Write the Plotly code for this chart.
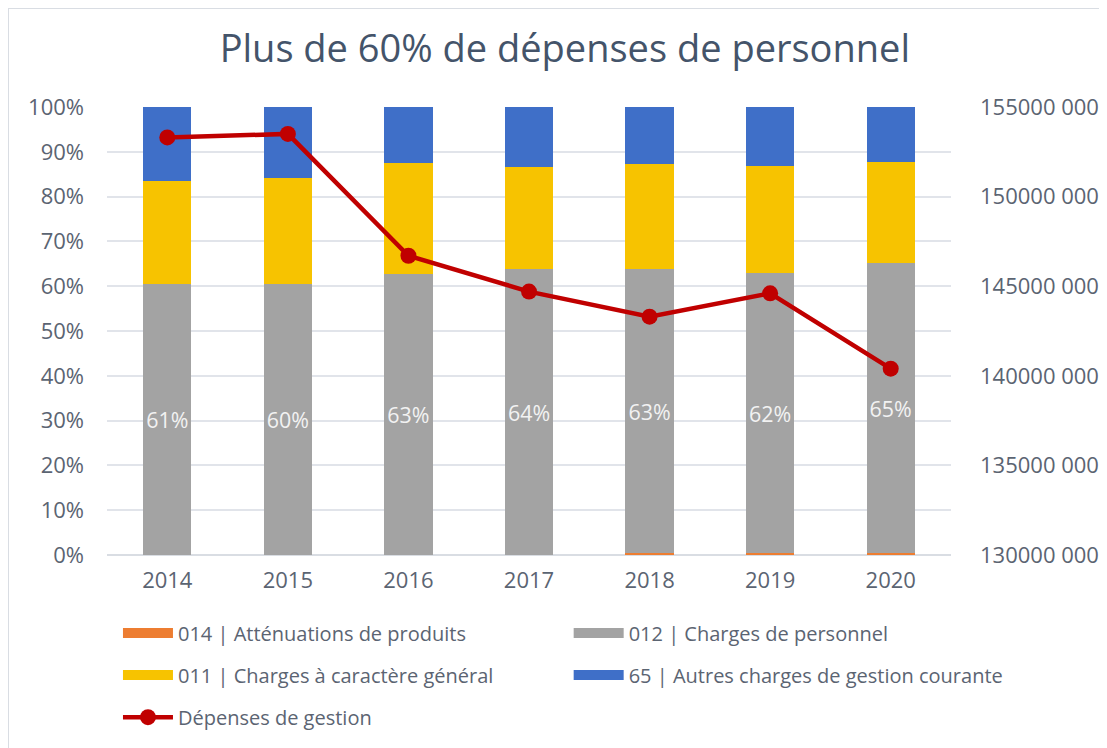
import plotly.graph_objects as go

years = ["2014", "2015", "2016", "2017", "2018", "2019", "2020"]
attenuations_014 = [0, 0, 0, 0, 0.5, 0.5, 0.5]
personnel_012 = [60.6, 60.4, 62.7, 63.8, 63.3, 62.4, 64.6]
general_011 = [22.9, 23.8, 24.8, 22.8, 23.4, 24.0, 22.7]
autres_65 = [16.5, 15.8, 12.5, 13.4, 12.8, 13.1, 12.2]
depenses_gestion = [153300000, 153500000, 146700000, 144700000, 143300000, 144600000, 140400000]

left_tickvals = [0, 10, 20, 30, 40, 50, 60, 70, 80, 90, 100]
left_ticktext = ["0%", "10%", "20%", "30%", "40%", "50%", "60%", "70%", "80%", "90%", "100%"]
right_tickvals = [130000000, 135000000, 140000000, 145000000, 150000000, 155000000]
right_ticktext = ["130000 000", "135000 000", "140000 000", "145000 000", "150000 000", "155000 000"]

FONT = "Open Sans"
TEXT = "#5b6472"

series = [
    ("014 | Atténuations de produits", attenuations_014, "#ED7D31", "legend"),
    ("012 | Charges de personnel", personnel_012, "#a3a3a3", "legend2"),
    ("011 | Charges à caractère général", general_011, "#f7c300", "legend3"),
    ("65 | Autres charges de gestion courante", autres_65, "#3f6fc8", "legend4"),
]

fig = go.Figure()
for name, vals, color, leg in series:
    kw = {}
    if vals is personnel_012:
        kw = dict(text=[f"{round(v)}%" for v in vals], textposition="inside",
                  insidetextanchor="middle", textangle=0,
                  textfont=dict(color="#f2f2f2", size=22, family=FONT))
    fig.add_trace(go.Bar(x=years, y=vals, name=name, legendgroup=name, showlegend=False,
                         marker=dict(color=color, line=dict(width=0)), **kw))
    # legend swatch (wide bar-like key, as in the reference)
    fig.add_trace(go.Scatter(x=[None], y=[None], name=name, legendgroup=name, mode="lines",
                             line=dict(color=color, width=10), legend=leg, hoverinfo="skip"))

fig.add_trace(go.Scatter(x=years, y=depenses_gestion, name="Dépenses de gestion", yaxis="y2",
                         mode="lines+markers", line=dict(color="#C00000", width=4.5),
                         marker=dict(color="#C00000", size=16), legend="legend5"))

leg_common = dict(orientation="h", xanchor="left", yanchor="middle",
                  font=dict(family=FONT, size=20, color=TEXT), bgcolor="rgba(0,0,0,0)",
                  itemwidth=50)
col1, col2 = 0.013, 0.547
row1, row2, row3 = -0.174, -0.268, -0.362

fig.update_layout(
    width=1107, height=748,
    barmode="stack", bargap=0.6,
    paper_bgcolor="white", plot_bgcolor="white",
    margin=dict(l=99, r=164, t=99, b=201),
    title=dict(text="Plus de 60% de dépenses de personnel", x=0.503, xanchor="center",
               y=0.946, yanchor="middle",
               font=dict(family=FONT, size=38, color="#44546a")),
    font=dict(family=FONT, color=TEXT),
    xaxis=dict(tickfont=dict(size=22, color=TEXT), showgrid=False, showline=False,
               ticks="", ticklabelstandoff=10),
    yaxis=dict(range=[0, 100], tickvals=left_tickvals, ticktext=left_ticktext,
               tickfont=dict(size=22, color=TEXT), gridcolor="#e1e4ea", gridwidth=1.5,
               zeroline=True, zerolinecolor="#d9dde3", zerolinewidth=1.5, ticklabelstandoff=22),
    yaxis2=dict(overlaying="y", side="right", range=[130000000, 155000000],
                tickvals=right_tickvals, ticktext=right_ticktext, showgrid=False,
                zeroline=False, tickfont=dict(size=22, color=TEXT), ticklabelstandoff=28),
    legend=dict(x=col1, y=row1, **leg_common),
    legend2=dict(x=col2, y=row1, **leg_common),
    legend3=dict(x=col1, y=row2, **leg_common),
    legend4=dict(x=col2, y=row2, **leg_common),
    legend5=dict(x=col1, y=row3, **leg_common),
    shapes=[dict(type="rect", xref="paper", yref="paper", x0=-0.1173, x1=1.4, y0=-0.6, y1=1.221,
                 line=dict(color="#d9dde3", width=2), fillcolor="rgba(0,0,0,0)", layer="below")],
)

fig.write_html("out.html")
